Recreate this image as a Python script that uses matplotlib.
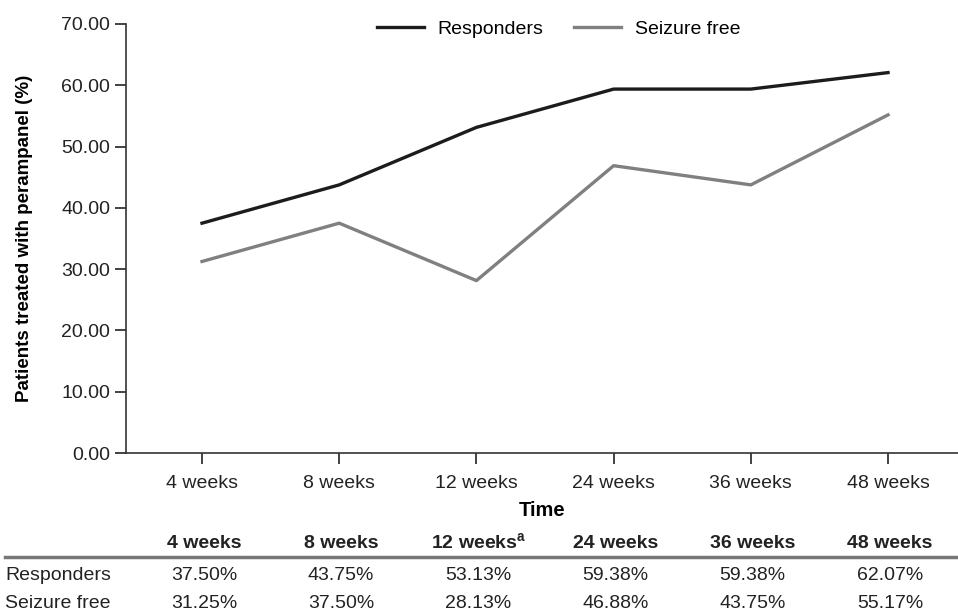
import matplotlib.pyplot as plt
import numpy as np

semanas = ['4 weeks', '8 weeks', '12 weeks', '24 weeks', '36 weeks', '48 weeks']
encabezados = ['4 weeks', '8 weeks', '12 weeks$^{\\mathregular{a}}$', '24 weeks', '36 weeks', '48 weeks']
responders = [37.50, 43.75, 53.13, 59.38, 59.38, 62.07]
seizure_free = [31.25, 37.50, 28.13, 46.88, 43.75, 55.17]

plt.rcParams['font.family'] = ['Liberation Sans', 'DejaVu Sans']

fig = plt.figure(figsize=(9.58, 6.14), dpi=100)
ax = fig.add_axes([126 / 958, 1 - 453 / 614, 1 - 126 / 958, (453 - 24) / 614])

x = np.arange(len(semanas))
ax.plot(x, responders, color='#1c1c1c', lw=2.4, label='Responders')
ax.plot(x, seizure_free, color='#808080', lw=2.4, label='Seizure free')

ax.set_xlim(-0.554, 5.51)
ax.set_ylim(0, 70)
ax.set_yticks(np.arange(0, 71, 10))
ax.set_yticklabels([f'{v:.2f}' for v in np.arange(0, 71, 10)])
ax.set_xticks(x)
ax.set_xticklabels(semanas)
ax.tick_params(axis='both', labelsize=14, colors='#222222', length=8, width=1.2)
ax.tick_params(axis='x', pad=8)
for s in ['top', 'right']:
    ax.spines[s].set_visible(False)
for s in ['left', 'bottom']:
    ax.spines[s].set_linewidth(1.2)
    ax.spines[s].set_color('#333333')

ax.set_ylabel('Patients treated with perampanel (%)', fontsize=13.5, fontweight='bold', labelpad=20)
ax.set_xlabel('Time', fontsize=14.5, fontweight='bold', labelpad=6)

ax.legend(loc='upper center', bbox_to_anchor=(0.52, 1.05), ncol=2, frameon=False,
          fontsize=14, handlelength=2.4, columnspacing=1.6, handletextpad=0.7)

# tabla de abajo
def fx(i):
    return (126 + (i + 0.554) / 6.064 * (958 - 126)) / 958

for i, h in enumerate(encabezados):
    fig.text(fx(i) + 0.002, 1 - 543 / 614, h, ha='center', va='center', fontsize=14, fontweight='bold', color='#222222')
fig.add_artist(plt.Line2D([5 / 958, 1.0], [1 - 557 / 614] * 2, color='#777777', lw=2.5))

filas = [('Responders', responders), ('Seizure free', seizure_free)]
for j, (nombre, vals) in enumerate(filas):
    y = 1 - (575 + 29 * j) / 614
    fig.text(5 / 958, y, nombre, ha='left', va='center', fontsize=14, color='#222222')
    for i, v in enumerate(vals):
        fig.text(fx(i) + 0.002, y, f'{v:.2f}%', ha='center', va='center', fontsize=14, color='#222222')

fig.savefig('out.png', dpi=100)
